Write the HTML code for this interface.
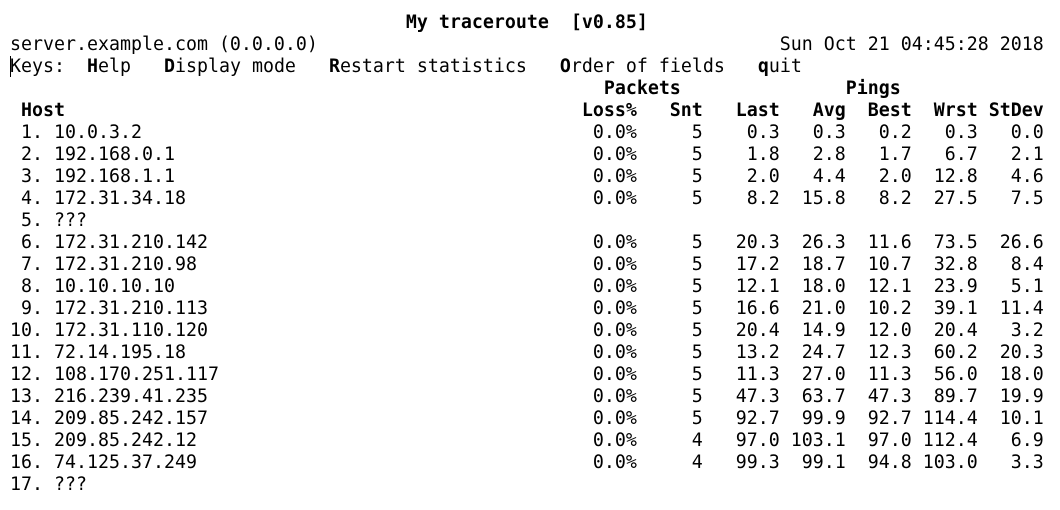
<!DOCTYPE html>
<html><head><meta charset="utf-8">
<style>
html,body{margin:0;padding:0;background:#fff;}
body{width:1060px;height:510px;overflow:hidden;position:relative;}
.row{position:absolute;left:10px;height:22px;line-height:22px;white-space:pre;
 font-family:"DejaVu Sans Mono","Liberation Mono",monospace;font-size:18.27px;color:#000;}
b{font-weight:bold;}
#cursor{position:absolute;left:10px;top:56px;width:1px;height:21px;background:#000;}
</style></head>
<body>
<div class="row" style="top:12px">                                    <b>My traceroute  [v0.85]</b></div>
<div class="row" style="top:34px">server.example.com (0.0.0.0)                                          Sun Oct 21 04:45:28 2018</div>
<div class="row" style="top:56px">Keys:  <b>H</b>elp   <b>D</b>isplay mode   <b>R</b>estart statistics   <b>O</b>rder of fields   <b>q</b>uit</div>
<div id="cursor"></div>
<div class="row" style="top:78px;font-weight:bold" id="grp"></div>
<div class="row" style="top:100px;font-weight:bold" id="hdr"></div>
<div id="rows"></div>
<script>
const hosts=["10.0.3.2","192.168.0.1","192.168.1.1","172.31.34.18","???","172.31.210.142","172.31.210.98","10.10.10.10","172.31.210.113","172.31.110.120","72.14.195.18","108.170.251.117","216.239.41.235","209.85.242.157","209.85.242.12","74.125.37.249","???"];
const loss=["0.0%","0.0%","0.0%","0.0%","","0.0%","0.0%","0.0%","0.0%","0.0%","0.0%","0.0%","0.0%","0.0%","0.0%","0.0%",""];
const snt=["5","5","5","5","","5","5","5","5","5","5","5","5","5","4","4",""];
const last=["0.3","1.8","2.0","8.2","","20.3","17.2","12.1","16.6","20.4","13.2","11.3","47.3","92.7","97.0","99.3",""];
const avg=["0.3","2.8","4.4","15.8","","26.3","18.7","18.0","21.0","14.9","24.7","27.0","63.7","99.9","103.1","99.1",""];
const best=["0.2","1.7","2.0","8.2","","11.6","10.7","12.1","10.2","12.0","12.3","11.3","47.3","92.7","97.0","94.8",""];
const wrst=["0.3","6.7","12.8","27.5","","73.5","32.8","23.9","39.1","20.4","60.2","56.0","89.7","114.4","112.4","103.0",""];
const stdev=["0.0","2.1","4.6","7.5","","26.6","8.4","5.1","11.4","3.2","20.3","18.0","19.9","10.1","6.9","3.3",""];
function fmt(a,b,c,d,e,f,g,h){return a.padEnd(51)+b.padStart(6)+c.padStart(6)+d.padStart(7)+e.padStart(6)+f.padStart(6)+g.padStart(6)+h.padStart(6);}
document.getElementById('grp').textContent=" ".repeat(54)+"Packets"+" ".repeat(15)+"Pings";
document.getElementById('hdr').textContent=fmt(" Host","Loss%","Snt","Last","Avg","Best","Wrst","StDev");
const cont=document.getElementById('rows');
for(let i=0;i<hosts.length;i++){
  const el=document.createElement('div');
  el.className='row';
  el.style.top=(122+22*i)+'px';
  let s=(String(i+1).padStart(2)+". "+hosts[i]);
  if(loss[i]) s=fmt(s,loss[i],snt[i],last[i],avg[i],best[i],wrst[i],stdev[i]);
  el.textContent=s;
  
  
  cont.appendChild(el);
}
</script>
</body></html>
